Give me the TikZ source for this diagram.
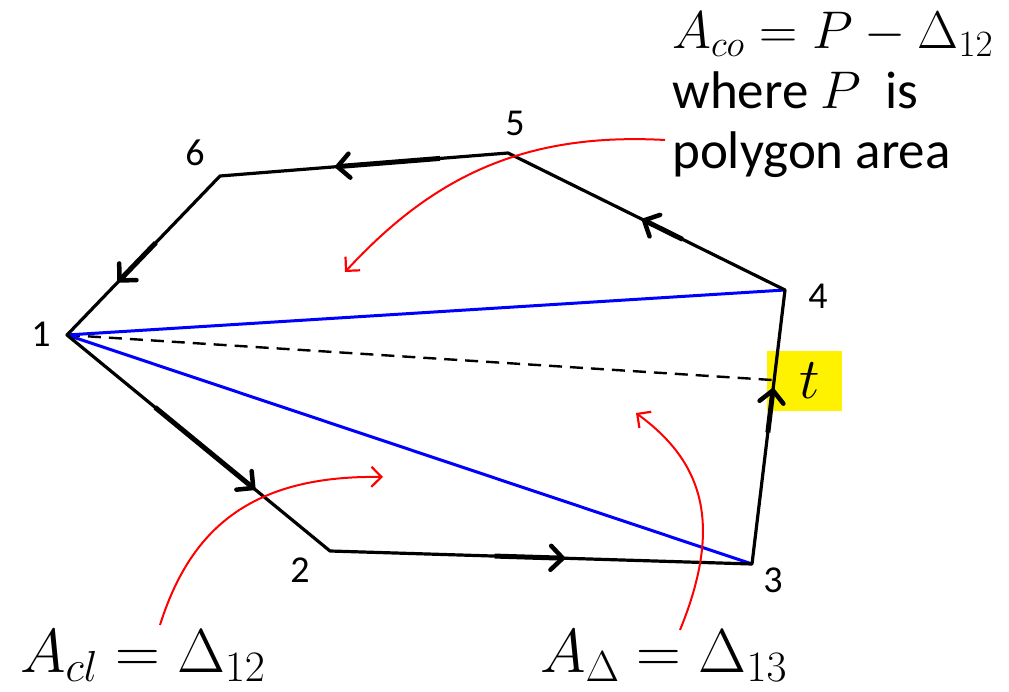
\RequirePackage{fix-cm}
\documentclass[tikz,border=0pt]{standalone}
\usepackage[no-math]{fontspec}
\setmainfont{Carlito}
\usetikzlibrary{arrows.meta,calc}
\begin{document}
\begin{tikzpicture}[x=1pt,y=-1pt,
  edge/.style={line width=3.2pt,black},
  blueline/.style={line width=3pt,blue},
  thickseg/.style={line width=5pt,black,-{Straight Barb[length=12pt,width=24pt,line width=4.5pt,round]}},
  redarr/.style={line width=2pt,red,-{Straight Barb[length=10pt,width=20pt,line width=2.2pt]}},
  lbl/.style={font=\fontsize{38}{44}\selectfont},
  big/.style={font=\fontsize{62}{70}\selectfont,inner sep=0pt}]
\useasboundingbox (0,0) rectangle (1009,692);
% vertices
\coordinate (v1) at (67,335);
\coordinate (v2) at (330,551);
\coordinate (v3) at (752,564);
\coordinate (v4) at (785,290);
\coordinate (v5) at (508,153);
\coordinate (v6) at (220,176);
\coordinate (vt) at (772,380);
% highlighted t
\node[fill=yellow,minimum width=75pt,minimum height=60pt,inner sep=0pt,
  font=\fontsize{58}{60}\selectfont] (tlab) at (804,381) {\hspace{12pt}$t$};
% labels
\node[lbl] (l1) at (41,334) {1};
\node[lbl] (l2) at (300,570) {2};
\node[lbl] (l3) at (773,580) {3};
\node[lbl] (l4) at (818,296) {4};
\node[lbl] (l5) at (515,123) {5};
\node[lbl] (l6) at (195,153) {6};
% diagonals
\draw[line width=2.4pt,dash pattern=on 13pt off 8pt] (v1) -- (vt);
\draw[blueline] (v1) -- (v4);
\draw[blueline] (v1) -- (v3);
% polygon edges
\draw[edge,line join=round] (v1) -- (v2) -- (v3) -- (v4) -- (v5) -- (v6) -- cycle;
% direction arrows
\draw[thickseg] ($(v5)!0.236!(v6)$) -- ($(v5)!0.60!(v6)$);
\draw[thickseg] ($(v6)!0.42!(v1)$) -- ($(v6)!0.667!(v1)$);
\draw[thickseg] ($(v1)!0.335!(v2)$) -- ($(v1)!0.715!(v2)$);
\draw[thickseg] ($(v2)!0.39!(v3)$) -- ($(v2)!0.557!(v3)$);
\draw[thickseg] ($(v3)!0.48!(v4)$) -- ($(v3)!0.642!(v4)$);
\draw[thickseg] ($(v4)!0.37!(v5)$) -- ($(v4)!0.516!(v5)$);
% texts
\node[anchor=north west,align=left,inner sep=0pt,
  font=\fontsize{53}{60}\selectfont] (top) at (672,12)
  {$A_{co}=P-\Delta_{12}$\\ where $P$\ \ is\\ polygon area};
\node[big,anchor=base west] (acl) at (20,672) {$A_{cl}=\Delta_{12}$};
\node[big,anchor=base west] (ad) at (540,672) {$A_{\Delta}=\Delta_{13}$};
% red pointers
\coordinate (r1s) at (665,140);
\coordinate (r1e) at (345,272);
\coordinate (r2s) at (160,625);
\coordinate (r2e) at (383,477);
\coordinate (r3s) at (680,630);
\coordinate (r3e) at (636,413);
\draw[redarr] (r1s) .. controls (520,132) and (430,180) .. (r1e);
\draw[redarr] (r2s) .. controls (190,530) and (250,475) .. (r2e);
\draw[redarr] (r3s) .. controls (725,520) and (700,460) .. (r3e);
\end{tikzpicture}
\end{document}
